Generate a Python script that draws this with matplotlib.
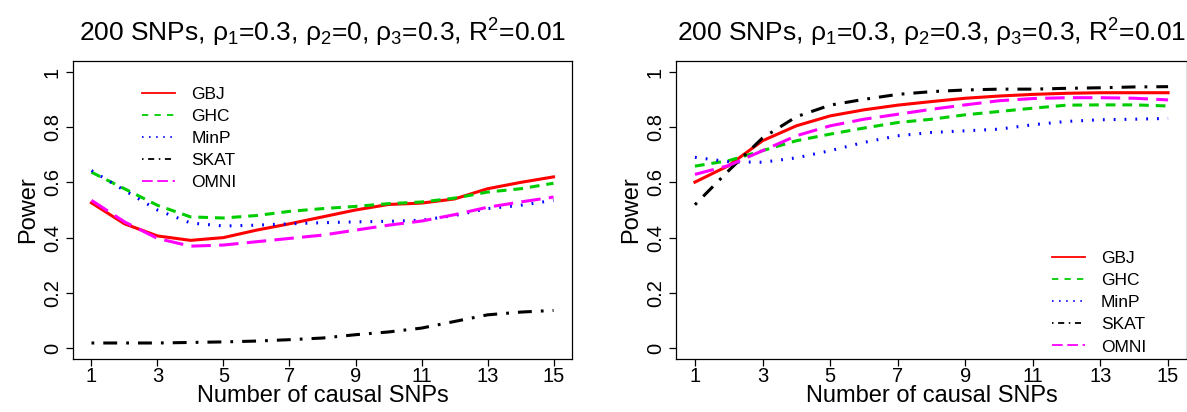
import matplotlib
matplotlib.use("Agg")
import matplotlib.pyplot as plt
from matplotlib.lines import Line2D

plt.rcParams['font.family'] = ['Liberation Sans', 'DejaVu Sans']
plt.rcParams['mathtext.fontset'] = 'custom'
plt.rcParams['mathtext.rm'] = 'Liberation Sans'
plt.rcParams['mathtext.it'] = 'Liberation Sans'
plt.rcParams['mathtext.bf'] = 'Liberation Sans'
plt.rcParams['lines.scale_dashes'] = False

# number of causal SNPs
n_causal = list(range(1, 16))

# panel 1: rho2 = 0
gbj_1 = [0.526, 0.450, 0.406, 0.390, 0.400, 0.427, 0.450, 0.475, 0.500, 0.520, 0.525, 0.540, 0.577, 0.600, 0.620]
ghc_1 = [0.637, 0.577, 0.517, 0.475, 0.471, 0.480, 0.495, 0.505, 0.513, 0.523, 0.529, 0.543, 0.565, 0.577, 0.597]
minp_1 = [0.643, 0.571, 0.500, 0.453, 0.442, 0.445, 0.450, 0.454, 0.457, 0.459, 0.463, 0.480, 0.505, 0.517, 0.535]
skat_1 = [0.018, 0.018, 0.018, 0.020, 0.022, 0.025, 0.030, 0.036, 0.048, 0.058, 0.072, 0.096, 0.120, 0.130, 0.136]
omni_1 = [0.535, 0.457, 0.397, 0.369, 0.373, 0.385, 0.397, 0.409, 0.427, 0.445, 0.460, 0.483, 0.510, 0.529, 0.547]

# panel 2: rho2 = 0.3
gbj_2 = [0.601, 0.661, 0.751, 0.805, 0.841, 0.863, 0.880, 0.893, 0.905, 0.913, 0.919, 0.923, 0.925, 0.925, 0.925]
ghc_2 = [0.659, 0.679, 0.715, 0.751, 0.775, 0.797, 0.817, 0.829, 0.845, 0.857, 0.869, 0.880, 0.881, 0.881, 0.877]
minp_2 = [0.691, 0.675, 0.673, 0.689, 0.715, 0.745, 0.769, 0.781, 0.787, 0.793, 0.809, 0.821, 0.827, 0.829, 0.832]
skat_2 = [0.519, 0.643, 0.761, 0.838, 0.880, 0.901, 0.919, 0.929, 0.935, 0.938, 0.938, 0.941, 0.943, 0.946, 0.947]
omni_2 = [0.629, 0.661, 0.715, 0.769, 0.805, 0.829, 0.847, 0.865, 0.881, 0.896, 0.904, 0.907, 0.907, 0.905, 0.899]

methods = ["GBJ", "GHC", "MinP", "SKAT", "OMNI"]
colors = ["#FF0000", "#00CD00", "#0000FF", "#000000", "#FF00FF"]
dashes = [None, (7, 5), (1.3, 6.5), (2, 6.5, 10, 6.5), (14, 6)]
# thinner patterns for the legend keys
leg_dashes = [None, (4.5, 4.5), (1.1, 4), (1.1, 3.3, 4.4, 3.3), (7.7, 3.3)]

titles = [r'200 SNPs, $\rho_1$=0.3, $\rho_2$=0, $\rho_3$=0.3, R$^2$=0.01',
          r'200 SNPs, $\rho_1$=0.3, $\rho_2$=0.3, $\rho_3$=0.3, R$^2$=0.01']

W, H = 1187, 412
fig = plt.figure(figsize=(W / 100, H / 100), dpi=100)
ax1 = fig.add_axes([73 / W, (H - 359) / H, 499 / W, 298 / H])
ax2 = fig.add_axes([676 / W, (H - 359) / H, 511 / W, 298 / H])

panels = [(ax1, [gbj_1, ghc_1, minp_1, skat_1, omni_1]),
          (ax2, [gbj_2, ghc_2, minp_2, skat_2, omni_2])]

for i, (ax, series) in enumerate(panels):
    for name, vals, c, d in zip(methods, series, colors, dashes):
        ln, = ax.plot(n_causal, vals, color=c, lw=2.2, label=name)
        if d is not None:
            ln.set_dashes(d)
    ax.set_xlim(0.44, 15.56)
    ax.set_ylim(-0.04, 1.04)
    ax.set_xticks([1, 3, 5, 7, 9, 11, 13, 15])
    ax.set_yticks([0, 0.2, 0.4, 0.6, 0.8, 1.0])
    ax.set_yticklabels(["0", "0.2", "0.4", "0.6", "0.8", "1"], rotation=90, va='center')
    ax.tick_params(axis='both', labelsize=14.5, length=5, width=0.9)
    ax.tick_params(axis='x', pad=1)
    ax.tick_params(axis='y', pad=3)
    for sp in ax.spines.values():
        sp.set_linewidth(0.9)
    ax.set_xlabel("Number of causal SNPs", fontsize=17, labelpad=-1)
    ax.set_ylabel("Power", fontsize=17, labelpad=3)
    ax.set_title(titles[i], fontsize=19, pad=14)


def add_legend(ax, **kw):
    handles = []
    for name, c, d in zip(methods, colors, leg_dashes):
        h = Line2D([], [], color=c, lw=1.3, label=name)
        if d is not None:
            h.set_dashes(d)
        handles.append(h)
    return ax.legend(handles=handles, frameon=False, fontsize=12.5, handlelength=1.9,
                     handletextpad=0.95, labelspacing=0.4, borderpad=0, borderaxespad=0, **kw)


add_legend(ax1, loc='upper left', bbox_to_anchor=(0.138, 0.913))
add_legend(ax2, loc='lower left', bbox_to_anchor=(0.735, 0.015))

fig.savefig("out.png", dpi=100)
